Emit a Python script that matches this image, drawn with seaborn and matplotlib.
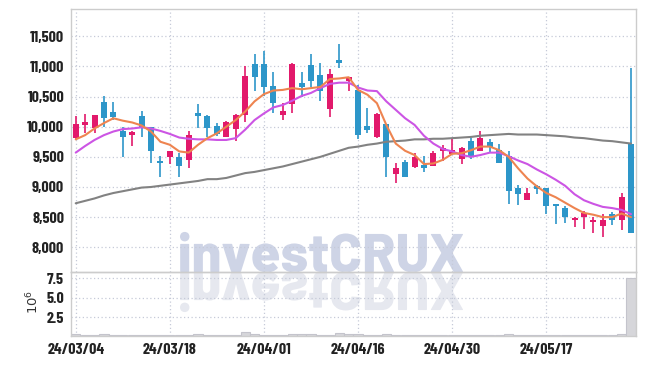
import matplotlib
matplotlib.use("Agg")
import matplotlib.pyplot as plt
import seaborn as sns
import pandas as pd
import numpy as np
from matplotlib.textpath import TextPath
from matplotlib.font_manager import FontProperties
from matplotlib.patches import PathPatch
from matplotlib.transforms import Affine2D


# trading days (KRX), 24/03/04 .. 24/05/30
dates = ["24/03/04", "24/03/05", "24/03/06", "24/03/07", "24/03/08", "24/03/11", "24/03/12", "24/03/13", "24/03/14", "24/03/15",
         "24/03/18", "24/03/19", "24/03/20", "24/03/21", "24/03/22", "24/03/25", "24/03/26", "24/03/27", "24/03/28", "24/03/29",
         "24/04/01", "24/04/02", "24/04/03", "24/04/04", "24/04/05", "24/04/08", "24/04/09", "24/04/11", "24/04/12", "24/04/15",
         "24/04/16", "24/04/17", "24/04/18", "24/04/19", "24/04/22", "24/04/23", "24/04/24", "24/04/25", "24/04/26", "24/04/29",
         "24/04/30", "24/05/02", "24/05/03", "24/05/07", "24/05/08", "24/05/09", "24/05/10", "24/05/13", "24/05/14", "24/05/16",
         "24/05/17", "24/05/20", "24/05/21", "24/05/22", "24/05/23", "24/05/24", "24/05/27", "24/05/28", "24/05/29", "24/05/30"]

opens = [9820, 10020, 9980, 10410, 10240, 9930, 9870, 10180, 9990, 9430,
         9500, 9500, 9440, 10220, 10180, 10010, 9830, 9960, 10200, 11040,
         11040, 10670, 10200, 10370, 10720, 11020, 10850, 10300, 11110, 10750,
         10610, 10010, 9830, 10040, 9220, 9410, 9330, 9370, 9350, 9600,
         9550, 9470, 9760, 9600, 9740, 9610, 9510, 8980, 8790, 9020,
         8980, 8710, 8650, 8450, 8510, 8420, 8360, 8550, 8450, 9710]
closes = [10040, 10080, 10190, 10150, 10160, 9830, 9920, 9970, 9600, 9400,
          9600, 9340, 9870, 10170, 9980, 9880, 10080, 10200, 10840, 10830,
          10650, 10400, 10260, 11040, 10650, 10760, 10600, 10870, 11050, 10820,
          9860, 9950, 10210, 9490, 9320, 9170, 9500, 9310, 9560, 9650,
          9610, 9650, 9490, 9820, 9660, 9400, 8940, 8890, 8900, 8970,
          8690, 8690, 8510, 8490, 8570, 8450, 8460, 8460, 8830, 8240]
highs = [10170, 10210, 10200, 10510, 10410, 10000, 9930, 10260, 10000, 9510,
         9600, 9560, 9930, 10380, 10190, 10060, 10090, 10210, 11010, 11200,
         11260, 10900, 10400, 11060, 10900, 11200, 11050, 10950, 11370, 10830,
         10690, 10310, 10220, 10050, 9400, 9450, 9560, 9510, 9590, 9700,
         9790, 9660, 9810, 9930, 9790, 9720, 9590, 9040, 8980, 9030,
         8990, 8720, 8690, 8510, 8600, 8500, 8550, 8590, 8900, 10980]
lows = [9780, 9890, 9890, 9990, 10110, 9490, 9680, 9830, 9390, 9170,
        9380, 9160, 9310, 9980, 9830, 9850, 9830, 9760, 10080, 10600,
        10510, 10230, 10110, 10220, 10500, 10650, 10430, 10160, 10980, 10590,
        9790, 9900, 9820, 9170, 9060, 9160, 9320, 9250, 9340, 9430,
        9540, 9380, 9460, 9600, 9570, 9400, 8720, 8700, 8790, 8880,
        8550, 8380, 8410, 8330, 8310, 8230, 8170, 8370, 8290, 8240]

ma_short = [9790, 9860, 9970, 10060, 10140, 10100, 10070, 10020, 9920, 9750,
            9700, 9590, 9570, 9700, 9810, 9890, 10000, 10110, 10250, 10420,
            10540, 10600, 10610, 10640, 10620, 10640, 10660, 10790, 10800, 10820,
            10610, 10530, 10390, 10030, 9720, 9600, 9530, 9380, 9390, 9450,
            9550, 9560, 9610, 9670, 9670, 9610, 9500, 9310, 9140, 9010,
            8900, 8830, 8740, 8650, 8570, 8540, 8500, 8500, 8560, 8500]
ma_mid = [9570, 9680, 9780, 9860, 9920, 9960, 9970, 9990, 9970, 9930,
          9880, 9820, 9800, 9790, 9790, 9780, 9780, 9810, 9950, 10110,
          10220, 10320, 10360, 10430, 10510, 10560, 10640, 10710, 10730, 10730,
          10650, 10600, 10590, 10420, 10280, 10140, 10030, 9850, 9720, 9630,
          9590, 9530, 9500, 9530, 9570, 9570, 9510, 9440, 9380, 9290,
          9210, 9120, 9020, 8880, 8780, 8720, 8670, 8650, 8620, 8550]
ma_long = [8730, 8770, 8810, 8860, 8900, 8930, 8960, 8990, 9000, 9020,
           9040, 9060, 9080, 9100, 9130, 9130, 9150, 9190, 9230, 9250,
           9280, 9310, 9340, 9380, 9420, 9460, 9500, 9550, 9600, 9650,
           9670, 9700, 9720, 9750, 9760, 9770, 9790, 9790, 9800, 9800,
           9810, 9820, 9830, 9850, 9860, 9870, 9880, 9870, 9870, 9870,
           9860, 9850, 9840, 9820, 9810, 9790, 9770, 9760, 9740, 9720]

volume = [300000, 180000, 180000, 300000, 180000, 180000, 180000, 180000, 180000, 180000,
          180000, 180000, 180000, 300000, 180000, 180000, 180000, 180000, 550000, 300000,
          180000, 180000, 180000, 400000, 300000, 300000, 250000, 180000, 450000, 300000,
          300000, 250000, 180000, 350000, 250000, 180000, 250000, 180000, 250000, 250000,
          180000, 180000, 180000, 250000, 180000, 180000, 350000, 180000, 180000, 180000,
          250000, 180000, 250000, 180000, 180000, 180000, 180000, 180000, 300000, 7550000]

price_ticks = [8000, 8500, 9000, 9500, 10000, 10500, 11000, 11500]
vol_ticks = [2.5, 5.0, 7.5]

UP = "#e2196b"
DOWN = "#2d96c9"
GRID = "#c6cad8"
SPINE = "#cccccc"
FONT = "Barlow Condensed"

sns.set_style("white")
plt.rcParams["font.family"] = [FONT, "DejaVu Sans"]

df = pd.DataFrame({"i": np.arange(len(dates)), "date": dates, "open": opens, "high": highs,
                   "low": lows, "close": closes, "ma_s": ma_short, "ma_m": ma_mid,
                   "ma_l": ma_long, "vol": np.array(volume) / 1e6})

fig = plt.figure(figsize=(6.45, 3.66), dpi=100)
ax = fig.add_axes([0.1101, 0.2560, 0.8755, 0.7186])
axv = fig.add_axes([0.1101, 0.0828, 0.8755, 0.1732], sharex=ax)
for a in (ax, axv):
    a.set_facecolor("none")
    for s in a.spines.values():
        s.set_color(SPINE)
        s.set_linewidth(1)
    a.grid(True, color=GRID, linestyle=(0, (1, 2)), linewidth=0.9)
    a.set_axisbelow(True)

# watermark with reflection
fp = FontProperties(family=["Barlow", "Rajdhani"], weight="heavy")
tp = TextPath((0, 0), "investCRUX", size=100, prop=fp)
cap = TextPath((0, 0), "C", size=100, prop=fp).get_extents()
bb = tp.get_extents()
sx = 283 / bb.width
sy = 38.5 / cap.y1
base_y = 366 - 272
to_disp = Affine2D().scale(1 / 100) + fig.dpi_scale_trans
t_main = Affine2D().translate(-bb.x0, 0).scale(sx, sy).translate(180, base_y) + to_disp
t_refl = Affine2D().translate(-bb.x0, 0).scale(sx, -sy).translate(180, base_y) + to_disp
fig.add_artist(PathPatch(tp, transform=t_main, facecolor="#ced4e6", edgecolor="none", zorder=-1))
fig.add_artist(PathPatch(tp, transform=t_refl, facecolor="#e6e8ef", edgecolor="none", zorder=-1))

# candles
up = df["close"] >= df["open"]
colors = np.where(up, UP, DOWN)
ax.vlines(df["i"], df["low"], df["high"], colors=colors, linewidth=1.2, zorder=2)
body_lo = np.minimum(df["open"], df["close"])
body_h = np.maximum(np.abs(df["close"] - df["open"]), 12)
ax.bar(df["i"], body_h, bottom=body_lo, width=0.64, color=colors, linewidth=0, zorder=3)

# moving averages
sns.lineplot(data=df, x="i", y="ma_l", ax=ax, color="#828282", linewidth=1.5, zorder=4)
sns.lineplot(data=df, x="i", y="ma_m", ax=ax, color="#cc55e4", linewidth=1.5, zorder=5)
sns.lineplot(data=df, x="i", y="ma_s", ax=ax, color="#ee8450", linewidth=1.5, zorder=6)

ax.set_xlim(-0.5, 59.5)
ax.set_ylim(7585, 11947)
ax.set_yticks(price_ticks)
ax.set_yticklabels([f"{v:,}" for v in price_ticks])
ax.set_xlabel("")
ax.set_ylabel("")
ax.tick_params(axis="x", labelbottom=False, length=0)
ax.tick_params(axis="y", length=0, pad=5, labelsize=11.5, labelcolor="#222222")
for lab in ax.get_yticklabels():
    lab.set_fontweight("bold")

# volume
axv.bar(df["i"], df["vol"], width=0.98, color="#d6d6da", edgecolor="#c4c4cc", linewidth=0.8, zorder=2)
axv.set_ylim(0.14, 8.27)
axv.set_yticks(vol_ticks)
axv.set_yticklabels([f"{v:.1f}" for v in vol_ticks])
tick_pos = list(range(0, 60, 10))
axv.set_xticks(tick_pos)
axv.set_xticklabels([dates[p] for p in tick_pos])
axv.tick_params(axis="both", length=0, labelsize=11.5, labelcolor="#222222")
axv.tick_params(axis="y", pad=5)
axv.tick_params(axis="x", pad=5)
for lab in axv.get_yticklabels() + axv.get_xticklabels():
    lab.set_fontweight("bold")
axv.set_ylabel(r"$10^{6}$", fontsize=9.5, color="#333333")
axv.yaxis.set_label_coords(-0.052, 0.53)
axv.set_xlabel("")

fig.savefig("out.png", dpi=100)
